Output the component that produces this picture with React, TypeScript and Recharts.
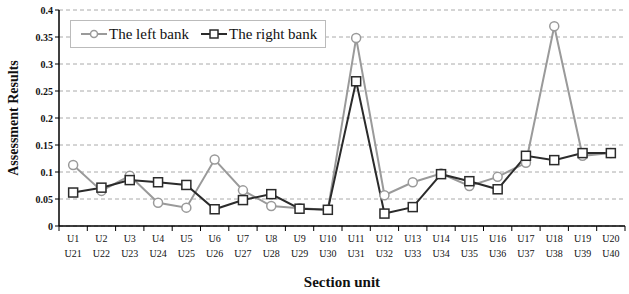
import { LineChart, Line, XAxis, YAxis, CartesianGrid, Label } from "recharts"

const topUnits = ["U1", "U2", "U3", "U4", "U5", "U6", "U7", "U8", "U9", "U10", "U11", "U12", "U13", "U14", "U15", "U16", "U17", "U18", "U19", "U20"]
const bottomUnits = ["U21", "U22", "U23", "U24", "U25", "U26", "U27", "U28", "U29", "U30", "U31", "U32", "U33", "U34", "U35", "U36", "U37", "U38", "U39", "U40"]
const leftBank = [0.113, 0.065, 0.093, 0.043, 0.034, 0.123, 0.066, 0.037, 0.033, 0.03, 0.348, 0.057, 0.081, 0.097, 0.074, 0.091, 0.117, 0.37, 0.13, 0.135]
const rightBank = [0.062, 0.071, 0.085, 0.081, 0.076, 0.031, 0.048, 0.059, 0.032, 0.03, 0.268, 0.023, 0.035, 0.096, 0.083, 0.068, 0.13, 0.122, 0.135, 0.135]
const yTicks = [0, 0.05, 0.1, 0.15, 0.2, 0.25, 0.3, 0.35, 0.4]

const data = topUnits.map((u, i) => ({
  unit: u,
  bottom: bottomUnits[i],
  left: leftBank[i],
  right: rightBank[i],
}))

const font = "'Liberation Serif', 'Times New Roman', serif"
const LEFT_COLOR = "#9a9a9a"
const RIGHT_COLOR = "#2b2b2b"
const HALF = 566 / 20 / 2

const UnitTick = (props: any) => {
  const { x, y, payload, index } = props
  return (
    <g>
      <line x1={x - HALF} y1={y - 8} x2={x - HALF} y2={y - 3} stroke="#000" />
      {index === topUnits.length - 1 && (
        <line x1={x + HALF} y1={y - 8} x2={x + HALF} y2={y - 3} stroke="#000" />
      )}
      <text x={x} y={y + 8} textAnchor="middle" fontSize={10} fontFamily={font} fill="#111">
        {payload.value}
      </text>
      <text x={x} y={y + 23} textAnchor="middle" fontSize={10} fontFamily={font} fill="#111">
        {bottomUnits[index]}
      </text>
    </g>
  )
}

const SquareDot = (props: any) => {
  const { cx, cy } = props
  if (cx == null || cy == null) return null
  return <rect x={cx - 4.5} y={cy - 4.5} width={9} height={9} fill="#fff" stroke={RIGHT_COLOR} strokeWidth={1.5} />
}

const LegendBox = () => (
  <div
    style={{
      position: "absolute",
      left: 70,
      top: 20,
      border: "1px solid #bbb",
      background: "#fff",
      width: 256,
      height: 28,
      display: "flex",
      alignItems: "center",
      fontFamily: font,
      fontSize: 15,
      color: "#111",
      boxSizing: "border-box",
      paddingLeft: 10,
    }}
  >
    <svg width={26} height={12}>
      <line x1={0} y1={6} x2={26} y2={6} stroke={LEFT_COLOR} strokeWidth={2} />
      <circle cx={13} cy={6} r={3.5} fill="#fff" stroke={LEFT_COLOR} strokeWidth={1.5} />
    </svg>
    <span style={{ marginLeft: 2, marginRight: 12 }}>The left bank</span>
    <svg width={26} height={12}>
      <line x1={0} y1={6} x2={26} y2={6} stroke={RIGHT_COLOR} strokeWidth={2} />
      <rect x={9} y={2} width={8} height={8} fill="#fff" stroke={RIGHT_COLOR} strokeWidth={1.5} />
    </svg>
    <span style={{ marginLeft: 2 }}>The right bank</span>
  </div>
)

export default function App() {
  return (
    <div style={{ position: "absolute", left: 0, top: 0, width: 629, height: 294, background: "#fff" }}>
      <LineChart width={629} height={294} data={data} margin={{ top: 10, right: 4, left: 0, bottom: 0 }}>
        <CartesianGrid vertical={false} stroke="#aaa" strokeDasharray="4 3" />
        <XAxis
          dataKey="unit"
          interval={0}
          height={68}
          padding={{ left: HALF, right: HALF }}
          tick={<UnitTick />}
          tickLine={false}
          axisLine={{ stroke: "#000", strokeWidth: 1.5 }}
        >
          <Label
            content={() => (
              <text x={342} y={287} textAnchor="middle" fontSize={15} fontWeight="bold" fontFamily={font} fill="#111">
                Section unit
              </text>
            )}
          />
        </XAxis>
        <YAxis
          width={59}
          domain={[0, 0.4]}
          ticks={yTicks}
          tickFormatter={(v: number) => String(v)}
          tick={{ fontSize: 10, fontFamily: font, fill: "#111", fontWeight: "bold" }}
          tickSize={4}
          tickLine={{ stroke: "#000" }}
          axisLine={{ stroke: "#000", strokeWidth: 1.5 }}
        >
          <Label
            content={() => (
              <text
                x={18}
                y={118}
                transform="rotate(-90 18 118)"
                textAnchor="middle"
                fontSize={14}
                fontWeight="bold"
                fontFamily={font}
                fill="#111"
              >
                Assessment Results
              </text>
            )}
          />
        </YAxis>
        <Line
          dataKey="left"
          name="The left bank"
          stroke={LEFT_COLOR}
          strokeWidth={2}
          dot={{ r: 4.5, fill: "#fff", stroke: LEFT_COLOR, strokeWidth: 1.5 }}
          isAnimationActive={false}
        />
        <Line
          dataKey="right"
          name="The right bank"
          stroke={RIGHT_COLOR}
          strokeWidth={2}
          dot={<SquareDot />}
          isAnimationActive={false}
        />
      </LineChart>
      <LegendBox />
    </div>
  )
}
